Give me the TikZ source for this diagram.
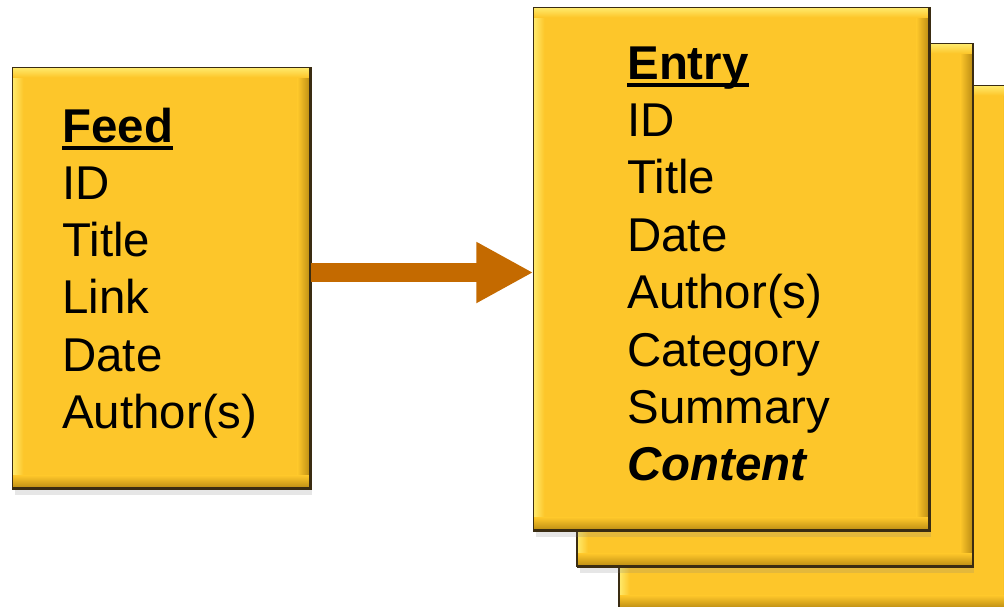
\documentclass[tikz,border=0pt]{standalone}
\usepackage{fontspec}
\setmainfont{Liberation Sans}
\usetikzlibrary{arrows.meta,shadows}

\definecolor{cardfill}{HTML}{FDC62A}
\definecolor{cardhi}{HTML}{FFEB6E}
\definecolor{cardlo}{HTML}{B98A12}
\definecolor{cardline}{HTML}{3A2C12}
\definecolor{arrowc}{HTML}{C46A00}

% bold header with a rule through the descender
\newcommand\hdr[1]{\setbox0\hbox{\bfseries #1}\rlap{\rule[-0.16cm]{\wd0}{0.08cm}}\box0}

\tikzset{
  card/.style={rectangle, fill=cardfill, draw=cardline, line width=0.8pt, inner sep=0pt,
    drop shadow={opacity=0.2, shadow xshift=0.04cm, shadow yshift=-0.14cm}},
  line/.style={anchor=base west, inner sep=0pt, text=black,
    font=\fontsize{27}{32}\selectfont},
  link/.style={draw=arrowc, line width=0.38cm, -{Triangle[length=1.14cm,width=1.14cm]}}
}

\begin{document}
\begin{tikzpicture}[x=0.02cm,y=-0.02cm]
  \useasboundingbox (0,0) rectangle (1004,606);

  % cards, back to front
  \foreach \b/\cx/\cy/\w/\h in {feed/161.5/278/5.94cm/8.4cm,
      entry3/817/347/7.9cm/10.44cm, entry2/775/305/7.9cm/10.44cm,
      entry1/731.5/269/7.9cm/10.44cm}{
    \node[card, minimum width=\w, minimum height=\h] (\b) at (\cx,\cy) {};
    \shade[left color=cardhi, right color=cardfill] (\b.north west) rectangle ([xshift=0.22cm]\b.south west);
    \shade[left color=cardfill, right color=cardlo] ([xshift=-0.26cm]\b.north east) rectangle (\b.south east);
    \shade[top color=cardhi, bottom color=cardfill] (\b.north west) rectangle ([yshift=-0.2cm]\b.north east);
    \shade[top color=cardfill, bottom color=cardlo] ([yshift=0.26cm]\b.south west) rectangle (\b.south east);
    \draw[cardline, line width=0.8pt] (\b.north west) rectangle (\b.south east);
    \draw[cardline, line width=1.4pt] (\b.north east) -- (\b.south east) -- (\b.south west);
  }

  % feed text
  \node[line] (feedhead) at (62,142) {\hdr{Feed}};
  \foreach \t [count=\i] in {ID,Title,Link,Date,Author(s)}
    \node[line] (feed-\i) at (62,{142+57.3*\i}) {\t};

  % entry text
  \node[line] (entryhead) at (627,79) {\hdr{Entry}};
  \foreach \t [count=\i] in {ID,Title,Date,Author(s),Category,Summary}
    \node[line] (entry-\i) at (627,{79+57.4*\i}) {\t};
  \node[line] (entry-7) at (627,{79+57.4*7}) {\textbf{\textit{Content}}};

  \draw[link] ([yshift=0.11cm]feed.east) -- ([yshift=0.11cm]feed.east -| entry1.west);
\end{tikzpicture}
\end{document}
